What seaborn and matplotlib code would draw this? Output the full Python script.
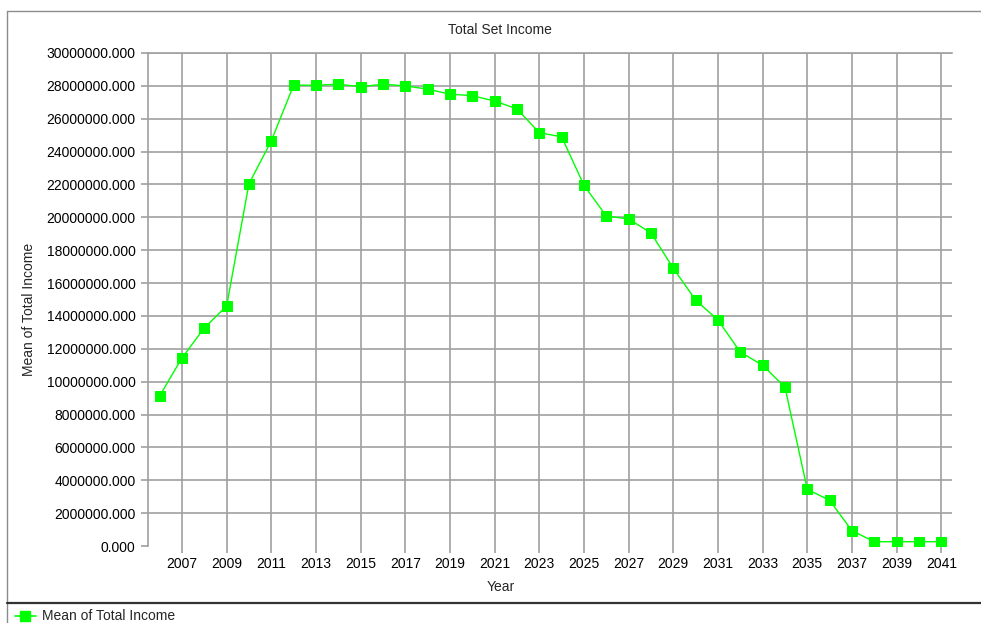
import pandas as pd
import matplotlib
matplotlib.use("Agg")
import matplotlib.pyplot as plt
import seaborn as sns
from matplotlib.lines import Line2D
from matplotlib.ticker import FormatStrFormatter

years = list(range(2006, 2042))
mean_income = [
    9130000, 11440000, 13270000, 14600000, 22040000, 24650000, 28040000, 28040000,
    28100000, 27950000, 28100000, 28000000, 27800000, 27500000, 27400000, 27080000,
    26600000, 25150000, 24900000, 21950000, 20080000, 19900000, 19050000, 16900000,
    14970000, 13750000, 11800000, 11000000, 9670000, 3450000, 2780000, 930000,
    260000, 260000, 260000, 260000,
]
year_ticks = list(range(2007, 2042, 2))
income_ticks = list(range(0, 30000001, 2000000))

df = pd.DataFrame({"Year": years, "Mean of Total Income": mean_income})

sns.set_theme(style="white")
plt.rcParams["font.family"] = ["Liberation Sans", "DejaVu Sans"]
plt.rcParams["font.size"] = 10

W, H = 981, 623
fig = plt.figure(figsize=(W / 100, H / 100), dpi=100)
fig.patch.set_facecolor("white")


def px_line(xs, ys, **kw):
    fig.add_artist(Line2D([x / W for x in xs], [1 - y / H for y in ys],
                          transform=fig.transFigure, **kw))


# outer frame and legend separator
px_line([7, 981], [11, 11], color="#8c8c8c", linewidth=1)
px_line([7, 7], [11, 623], color="#8c8c8c", linewidth=1)
px_line([7, 981], [603, 603], color="#333333", linewidth=1.6)

ax = fig.add_axes([148 / W, 1 - 546 / H, (952 - 148) / W, (546 - 53) / H])

sns.lineplot(data=df, x="Year", y="Mean of Total Income", ax=ax,
             color="#00ff00", linewidth=1, marker="s", markersize=7.5,
             markeredgecolor="#00ff00", markerfacecolor="#00ff00",
             legend=False, zorder=3)

ax.set_xlim(2005.48, 2041.48)
ax.set_ylim(0, 30000000)
ax.set_xticks(year_ticks)
ax.set_yticks(income_ticks)
ax.yaxis.set_major_formatter(FormatStrFormatter("%.3f"))

for y in income_ticks[1:]:
    ax.axhline(y, color="#a0a0a0", linewidth=1.2, zorder=1)
for x in year_ticks:
    ax.axvline(x, color="#a0a0a0", linewidth=1.2, zorder=1)

for side in ["right", "bottom"]:
    ax.spines[side].set_visible(False)
ax.spines["left"].set_color("#a0a0a0")
ax.spines["top"].set_color("#a0a0a0")
ax.spines["left"].set_linewidth(1.2)
ax.spines["top"].set_linewidth(1.2)

ax.tick_params(axis="both", direction="out", length=5, width=1.2, color="#a0a0a0",
               labelsize=10, labelcolor="black", pad=4)
ax.tick_params(axis="x", bottom=True, pad=3)
ax.tick_params(axis="y", left=True)

ax.set_xlabel("")
ax.set_ylabel("")
fig.text(500 / W, 1 - 30 / H, "Total Set Income", fontsize=10, ha="center", va="center")
fig.text(501 / W, 1 - 587 / H, "Year", fontsize=10, ha="center", va="center")
fig.text(29 / W, 1 - 309 / H, "Mean of Total Income", fontsize=10, ha="center",
         va="center", rotation=90)

# legend at the bottom
px_line([15, 36], [616, 616], color="#00ff00", linewidth=1.2)
px_line([25], [616], color="#00ff00", marker="s", markersize=7, linestyle="none")
fig.text(42 / W, 1 - 616 / H, "Mean of Total Income", fontsize=10, va="center", ha="left")

fig.savefig("out.png", dpi=100)
